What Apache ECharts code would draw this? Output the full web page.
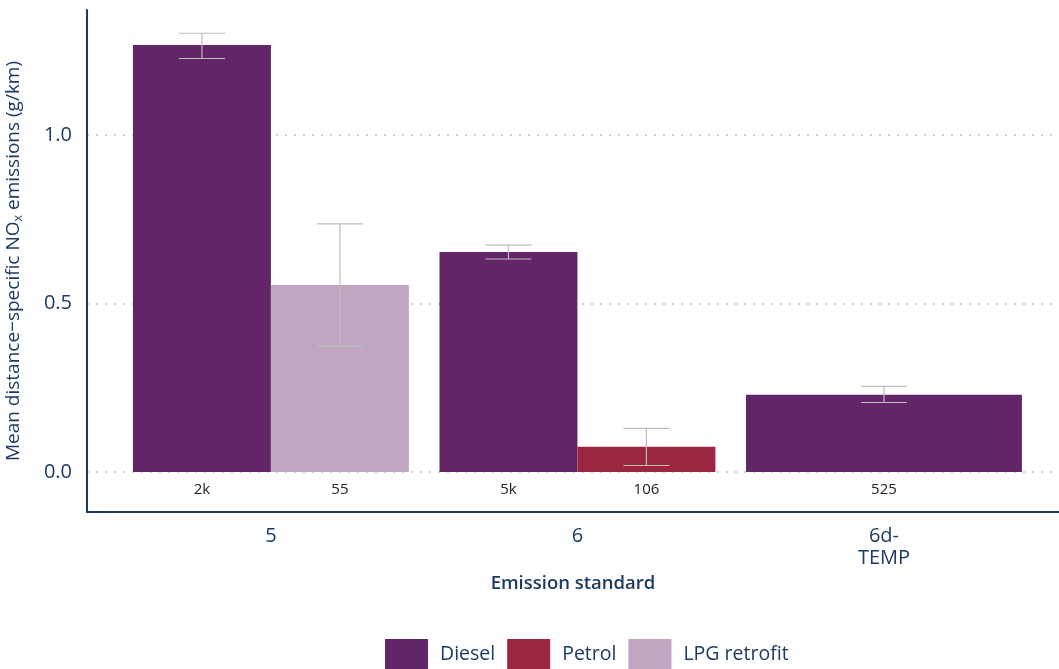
<!DOCTYPE html>
<html>
<head>
<meta charset="utf-8">
<script src="https://cdn.jsdelivr.net/npm/echarts@6/dist/echarts.min.js"></script>
<style>
html,body{margin:0;padding:0;background:#fff;}
#chart{width:1059px;height:669px;}
</style>
</head>
<body>
<div id="chart"></div>
<script>
// ---- data ----
const standards = ['5', '6', '6d-TEMP'];
const standardLabels = ['5', '6', '6d-\nTEMP'];
const fuels = ['Diesel', 'Petrol', 'LPG retrofit'];
const fuelColors = ['#622567', '#9c263f', '#c1a6c2'];

// values per standard (null = not present)
const dieselMean = [1.267, 0.653, 0.229];
const dieselLow  = [1.227, 0.632, 0.206];
const dieselHigh = [1.302, 0.673, 0.254];
const dieselN    = ['2k', '5k', '525'];

const petrolMean = [null, 0.075, null];
const petrolLow  = [null, 0.019, null];
const petrolHigh = [null, 0.129, null];
const petrolN    = [null, '106', null];

const lpgMean = [0.555, null, null];
const lpgLow  = [0.374, null, null];
const lpgHigh = [0.736, null, null];
const lpgN    = ['55', null, null];

const yTicks = [0, 0.5, 1.0];

// ---- build ----
const allMeans = [dieselMean, petrolMean, lpgMean];
const allLow = [dieselLow, petrolLow, lpgLow];
const allHigh = [dieselHigh, petrolHigh, lpgHigh];
const allN = [dieselN, petrolN, lpgN];
const dodgeOrder = [0, 2, 1];

function seriesData(f) {
  const out = [];
  standards.forEach((s, g) => {
    if (allMeans[f][g] == null) return;
    const present = dodgeOrder.filter(k => allMeans[k][g] != null);
    const slot = present.indexOf(f);
    out.push([g + 1, allMeans[f][g], allLow[f][g], allHigh[f][g], slot, present.length, allN[f][g]]);
  });
  return out;
}
const seriesDataAll = fuels.map((f, i) => seriesData(i));

const navy = '#1d3a63';
const font = 'Open Sans';

function renderItem(params, api) {
  const x = api.value(0), mean = api.value(1), lo = api.value(2), hi = api.value(3);
  const slot = api.value(4), n = api.value(5);
  const label = seriesDataAll[params.seriesIndex][params.dataIndex][6];
  const groupW = api.size([0.9, 0])[0];
  const barW = groupW / n;
  const c0 = api.coord([x, 0]);
  const cx = c0[0] - groupW / 2 + barW * (slot + 0.5);
  const top = api.coord([x, mean])[1];
  const yLo = api.coord([x, lo])[1];
  const yHi = api.coord([x, hi])[1];
  const capW = api.size([0.15, 0])[0];
  const errStyle = { stroke: '#bdbdbd', lineWidth: 1.2 };
  return {
    type: 'group',
    children: [
      { type: 'rect', shape: { x: cx - barW / 2, y: top, width: barW, height: c0[1] - top },
        style: { fill: api.visual('color') } },
      { type: 'line', shape: { x1: cx, y1: yLo, x2: cx, y2: yHi }, style: errStyle },
      { type: 'line', shape: { x1: cx - capW / 2, y1: yHi, x2: cx + capW / 2, y2: yHi }, style: errStyle },
      { type: 'line', shape: { x1: cx - capW / 2, y1: yLo, x2: cx + capW / 2, y2: yLo }, style: errStyle },
      { type: 'text', x: cx, y: c0[1] + 18,
        style: { text: label, fill: '#222', font: '15px "' + font + '"', align: 'center', verticalAlign: 'middle' } }
    ]
  };
}

const chart = echarts.init(document.getElementById('chart'), null, { renderer: 'canvas' });
chart.setOption({
  animation: false,
  textStyle: { fontFamily: font },
  grid: { left: 87, top: 10, right: 0, bottom: 157, containLabel: false, outerBoundsMode: 'none' },
  legend: {
    data: fuels,
    left: 380, top: 634,
    itemWidth: 43, itemHeight: 30, itemGap: 12,
    icon: 'rect',
    textStyle: { color: navy, fontSize: 19.5, fontFamily: font, padding: [0, 0, 0, 7] }
  },
  xAxis: {
    type: 'value', min: 0.4, max: 3.571,
    axisLine: { show: true, onZero: false, lineStyle: { color: navy, width: 2 } },
    axisTick: { show: false, customValues: [1, 2, 3] },
    splitLine: { show: false },
    axisLabel: {
      customValues: [1, 2, 3],
      formatter: v => standardLabels[Math.round(v) - 1] || '',
      color: navy, fontSize: 20, fontFamily: font, margin: 13, lineHeight: 22
    },
    name: 'Emission standard', nameLocation: 'middle', nameGap: 60,
    nameTextStyle: { color: navy, fontSize: 18.5, fontFamily: font, fontWeight: 600 }
  },
  yAxis: {
    type: 'value', min: -0.119, max: 1.371,
    axisLine: { show: true, lineStyle: { color: navy, width: 2 } },
    axisTick: { show: false, customValues: yTicks },
    axisLabel: {
      customValues: yTicks,
      formatter: v => v.toFixed(1),
      color: navy, fontSize: 20, fontFamily: font, margin: 15
    },
    splitLine: { show: true, lineStyle: { color: '#cfcfcf', width: 2, type: [2, 7] } },
    name: '{a|Mean distance\u2212specific NO}{sub|x}{a| emissions (g/km)}',
    nameLocation: 'middle', nameGap: 62,
    nameTextStyle: {
      rich: {
        a: { color: navy, fontSize: 19, fontFamily: font, lineHeight: 23 },
        sub: { color: navy, fontSize: 12.5, fontFamily: font, verticalAlign: 'bottom', lineHeight: 12.5 }
      }
    }
  },
  series: fuels.map((f, i) => ({
    name: f,
    type: 'custom',
    renderItem: renderItem,
    itemStyle: { color: fuelColors[i] },
    encode: { x: 0, y: 1 },
    data: seriesDataAll[i],
    clip: false
  }))
});
</script>
</body>
</html>
